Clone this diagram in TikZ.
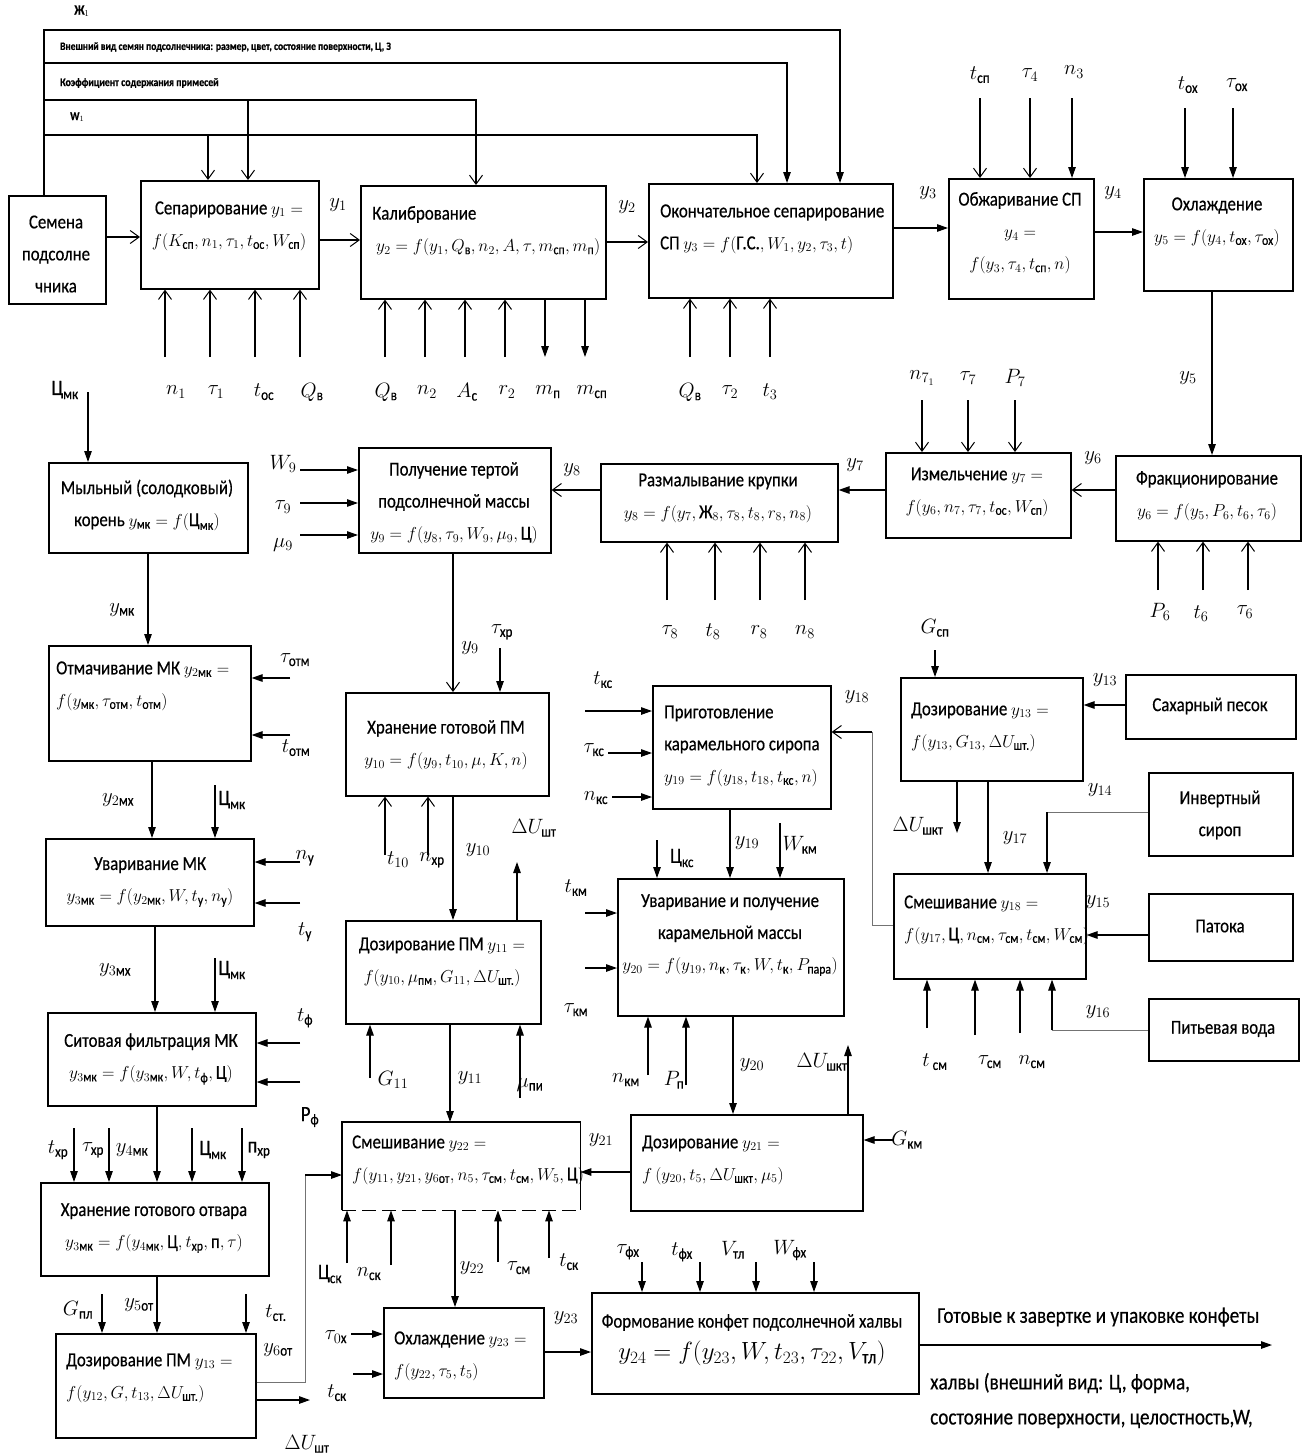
\documentclass[tikz,border=0pt]{standalone}
\usepackage{amsmath}
\usepackage{fontspec}
\setmainfont{Carlito}[Scale=1.1, FakeStretch=0.85, FakeBold=0.5]
\usetikzlibrary{arrows.meta}

\newcommand\bxf{\fontsize{18}{32}\selectfont}
\newcommand\lbf{\fontsize{20}{24}\selectfont}
\newcommand\tnf{\fontsize{10.2}{11}\selectfont\bfseries}
\newcommand\fnf{\fontsize{20.5}{22}\selectfont}
\newcommand\tc[1]{\text{#1}}

% input / output arrows with a named free end
\newcommand\indn[5]{\coordinate (#2) at (#3,#4); \draw[#1] (#2) -- (#2 |- #5.north);}
\newcommand\inup[5]{\coordinate (#2) at (#3,#4); \draw[#1] (#2) -- (#2 |- #5.south);}
\newcommand\inrt[5]{\coordinate (#2) at (#3,#4); \draw[#1] (#2) -- (#2 -| #5.west);}
\newcommand\inlt[5]{\coordinate (#2) at (#3,#4); \draw[#1] (#2) -- (#2 -| #5.east);}
\newcommand\outdn[5]{\coordinate (#2) at (#3,#4); \draw[#1] (#2 |- #5.south) -- (#2);}
\newcommand\outup[5]{\coordinate (#2) at (#3,#4); \draw[#1] (#2 |- #5.north) -- (#2);}

\tikzset{
  blk/.style={draw, line width=1.6pt, anchor=north west, inner sep=0pt},
  tx/.style={font=\bxf, align=center, inner sep=0pt},
  txl/.style={font=\bxf, align=left, inner sep=0pt, anchor=west},
  lb/.style={font=\lbf, inner sep=0pt},
  wire/.style={line width=1.2pt},
  oa/.style={wire, -{Straight Barb[length=9pt,width=13pt,line width=1pt]}},
  fa/.style={wire, -{Triangle[length=11pt,width=7.5pt]}},
  gw/.style={line width=1pt, draw=black!55},
}

\begin{document}
\begin{tikzpicture}[x=1pt,y=-1pt]
\path[fill=white] (0,0) rectangle (1308,1456);
\useasboundingbox (0,0) rectangle (1308,1456);

% ---------- quality indicators along the top ----------
\node[font=\fontsize{13}{15}\selectfont\bfseries, inner sep=0pt] (zh) at (82,11) {Ж$_1$};
\node[font=\tnf, anchor=west, inner sep=0pt] (vv) at (60,47) {Внешний вид семян подсолнечника: размер, цвет, состояние поверхности, Ц, З};
\node[font=\fontsize{10.5}{12}\selectfont\bfseries, anchor=west, inner sep=0pt] (ks) at (60,83) {Коэффициент содержания примесей};
\node[font=\fontsize{11}{12}\selectfont\bfseries, anchor=west, inner sep=0pt] (w1) at (70,117) {W$_1$};

% ---------- row 1 ----------
\node[blk,minimum width=97,minimum height=108] (sem) at (8,195) {};
\node[tx] (semt) at (56,254) {Семена\\подсолне\\чника};
\node[blk,minimum width=178,minimum height=108] (sep) at (140,180) {};
\node[tx] (sept) at (229,226) {Сепарирование $y_1 =$\\$f(K_{\tc{сп}}, n_1, \tau_1, t_{\tc{ос}}, W_{\tc{сп}})$};
\node[blk,minimum width=245,minimum height=113] (kal) at (360,185) {};
\node[txl] (kalt) at (372,231) {Калибрование\\\hspace{4pt}$y_2 = f(y_1, Q_{\tc{в}}, n_2, A, \tau, m_{\tc{сп}}, m_{\tc{п}})$};
\node[blk,minimum width=244,minimum height=114] (ok) at (648,183) {};
\node[txl] (okt) at (660,229) {Окончательное сепарирование\\СП $y_3 = f(\tc{Г.С.}, W_1, y_2, \tau_3, t)$};
\node[blk,minimum width=145,minimum height=120] (obj) at (948,178) {};
\node[tx] (objt) at (1020,233) {Обжаривание СП\\$y_4 =$\\$f(y_3, \tau_4, t_{\tc{сп}}, n)$};
\node[blk,minimum width=149,minimum height=112] (ohl) at (1143,178) {};
\node[tx] (ohlt) at (1217,222) {Охлаждение\\$y_5 = f(y_4, t_{\tc{ох}}, \tau_{\tc{ох}})$};

% feed lines from the top
\draw[fa] (sem.north -| 44,0) -- (44,30) -- (840,30) -- (840,0 |- ok.north);
\draw[fa] (44,63) -- (787,63) -- (787,0 |- ok.north);
\draw[oa] (44,100) -- (476,100) -- (476,0 |- kal.north);
\draw[oa] (248,100) -- (248,0 |- sep.north);
\draw[oa] (44,135) -- (757,135) -- (757,0 |- ok.north);
\draw[oa] (208,135) -- (208,0 |- sep.north);

\node[lb] (ly1) at (338,205) {$y_1$};
\node[lb] (ly2) at (627,207) {$y_2$};
\node[lb] (ly3) at (928,193) {$y_3$};
\node[lb] (ly4) at (1113,193) {$y_4$};
\draw[oa] (sem.east |- 0,237) -- (sep.west |- 0,237);
\draw[oa] (sep.east |- 0,240) -- (kal.west |- 0,240);
\draw[oa] (kal.east |- 0,242) -- (ok.west |- 0,242);
\draw[fa] (ok.east |- 0,228) -- (obj.west |- 0,228);
\draw[fa] (obj.east |- 0,232) -- (ohl.west |- 0,232);

\node[lb] (ltsp) at (980,75) {$t_{\tc{сп}}$}; \indn{oa}{atsp}{980}{98}{obj}
\node[lb] (lt4) at (1030,75) {$\tau_4$}; \indn{oa}{at4}{1030}{98}{obj}
\node[lb] (ln3) at (1074,72) {$n_3$}; \indn{fa}{an3}{1072}{98}{obj}
\node[lb] (ltox) at (1188,85) {$t_{\tc{ох}}$}; \indn{fa}{atox}{1185}{108}{ohl}
\node[lb] (ltaox) at (1237,85) {$\tau_{\tc{ох}}$}; \indn{fa}{ataox}{1233}{108}{ohl}

% inputs under row 1
\inup{oa}{an1}{165}{357}{sep} \node[lb] (ln1) at (176,392) {$n_1$};
\inup{oa}{at1}{210}{357}{sep} \node[lb] (lt1) at (216,392) {$\tau_1$};
\inup{oa}{atos}{255}{357}{sep} \node[lb] (ltos) at (264,392) {$t_{\tc{ос}}$};
\inup{oa}{aqv}{300}{357}{sep} \node[lb] (lqv) at (312,392) {$Q_{\tc{в}}$};
\inup{oa}{aqv2}{385}{357}{kal} \node[lb] (lqv2) at (386,392) {$Q_{\tc{в}}$};
\inup{oa}{an2}{425}{357}{kal} \node[lb] (ln2) at (427,392) {$n_2$};
\inup{oa}{aac}{465}{357}{kal} \node[lb] (lac) at (467,392) {$A_{\tc{с}}$};
\inup{oa}{ar2}{505}{357}{kal} \node[lb] (lr2) at (507,392) {$r_2$};
\outdn{fa}{amp}{545}{357}{kal} \node[lb] (lmp) at (548,392) {$m_{\tc{п}}$};
\outdn{fa}{amsp}{585}{357}{kal} \node[lb] (lmsp) at (592,392) {$m_{\tc{сп}}$};
\inup{oa}{aqv3}{690}{357}{ok} \node[lb] (lqv3) at (690,392) {$Q_{\tc{в}}$};
\inup{oa}{at2}{730}{357}{ok} \node[lb] (lt2) at (730,392) {$\tau_2$};
\inup{oa}{at3}{770}{357}{ok} \node[lb] (lt3) at (770,392) {$t_3$};

% ---------- row 2 (right to left) ----------
\node[blk,minimum width=185,minimum height=85] (frak) at (1115,455) {};
\node[tx] (frakt) at (1207,496) {Фракционирование\\$y_6 = f(y_5, P_6, t_6, \tau_6)$};
\node[blk,minimum width=185,minimum height=85] (izm) at (885,452) {};
\node[tx] (izmt) at (977,492) {Измельчение $y_7 =$\\$f(y_6, n_7, \tau_7, t_{\tc{ос}}, W_{\tc{сп}})$};
\node[blk,minimum width=237,minimum height=78] (raz) at (600,463) {};
\node[tx] (razt) at (718,498) {Размалывание крупки\\$y_8 = f(y_7, \tc{Ж}_8, \tau_8, t_8, r_8, n_8)$};
\node[blk,minimum width=192,minimum height=105] (pol) at (358,447) {};
\node[tx] (polt) at (454,503) {Получение тертой\\подсолнечной массы\\$y_9 = f(y_8, \tau_9, W_9, \mu_9, \tc{Ц})$};

\node[lb] (ly5) at (1188,378) {$y_5$};
\draw[fa] (1212,0 |- ohl.south) -- (1212,0 |- frak.north);
\node[lb] (ln7) at (922,378) {$n_{7_1}$}; \indn{oa}{an7}{922}{400}{izm}
\node[lb] (lt7) at (968,378) {$\tau_7$}; \indn{oa}{at7}{968}{400}{izm}
\node[lb] (lp7) at (1015,378) {$P_7$}; \indn{oa}{ap7}{1015}{400}{izm}

\node[lb] (ly6) at (1093,458) {$y_6$};
\node[lb] (ly7) at (855,465) {$y_7$};
\node[lb] (ly8) at (572,470) {$y_8$};
\draw[oa] (frak.west |- 0,490) -- (izm.east |- 0,490);
\draw[fa] (izm.west |- 0,490) -- (raz.east |- 0,490);
\draw[oa] (raz.west |- 0,490) -- (pol.east |- 0,490);

\inup{oa}{at8}{667}{600}{raz} \node[lb] (lt8) at (670,632) {$\tau_8$};
\inup{oa}{att8}{715}{600}{raz} \node[lb] (ltt8) at (713,632) {$t_8$};
\inup{oa}{ar8}{760}{600}{raz} \node[lb] (lr8) at (759,632) {$r_8$};
\inup{oa}{an8}{805}{600}{raz} \node[lb] (ln8) at (805,632) {$n_8$};
\inup{oa}{ap6}{1158}{590}{frak} \node[lb] (lp6) at (1160,612) {$P_6$};
\inup{oa}{at6}{1203}{590}{frak} \node[lb] (lt6) at (1201,614) {$t_6$};
\inup{oa}{ata6}{1248}{590}{frak} \node[lb] (lta6) at (1245,612) {$\tau_6$};

\node[lb] (lw9) at (283,464) {$W_9$}; \inrt{fa}{aw9}{300}{470}{pol}
\node[lb] (lta9) at (283,507) {$\tau_9$}; \inrt{fa}{ata9}{300}{503}{pol}
\node[lb] (lmu9) at (283,545) {$\mu_9$}; \inrt{fa}{amu9}{300}{535}{pol}

% ---------- left column: liquorice root decoction ----------
\node[blk,minimum width=199,minimum height=90] (mk) at (48,462) {};
\node[tx] (mkt) at (147,505) {Мыльный (солодковый)\\корень $y_{\tc{мк}} = f(\tc{Ц}_{\tc{мк}})$};
\node[lb] (lcmk) at (65,390) {$\tc{Ц}_{\tc{мк}}$}; \indn{fa}{acmk}{88}{392}{mk}
\node[blk,minimum width=202,minimum height=115] (otm) at (48,645) {};
\node[lb] (lymk) at (122,610) {$y_{\tc{мк}}$};
\draw[fa] (148,0 |- mk.south) -- (148,0 |- otm.north);
\node[txl] (otmt) at (56,686) {Отмачивание МК $y_{2\tc{мк}} =$\\$f(y_{\tc{мк}}, \tau_{\tc{отм}}, t_{\tc{отм}})$};
\node[lb] (ltotm) at (295,660) {$\tau_{\tc{отм}}$}; \inlt{fa}{atotm}{290}{678}{otm}
\node[lb] (lttotm) at (296,748) {$t_{\tc{отм}}$}; \inlt{fa}{attotm}{290}{735}{otm}

\node[blk,minimum width=208,minimum height=87] (uv) at (45,838) {};
\node[lb] (ly2mk) at (118,800) {$y_{2\tc{мх}}$};
\draw[fa] (152,0 |- otm.south) -- (152,0 |- uv.north);
\node[lb] (lcmk2) at (232,800) {$\tc{Ц}_{\tc{мк}}$}; \indn{fa}{acmk2}{215}{785}{uv}
\node[tx] (uvt) at (150,882) {Уваривание МК\\$y_{3\tc{мк}} = f(y_{2\tc{мк}}, W, t_{\tc{у}}, n_{\tc{у}})$};
\node[lb] (lny) at (305,858) {$n_{\tc{у}}$}; \inlt{fa}{any}{300}{862}{uv}
\node[lb] (lty) at (305,932) {$t_{\tc{у}}$}; \inlt{fa}{aty}{300}{903}{uv}

\node[blk,minimum width=208,minimum height=93] (sit) at (47,1012) {};
\node[lb] (ly3mk) at (115,970) {$y_{3\tc{мх}}$};
\draw[fa] (155,0 |- uv.south) -- (155,0 |- sit.north);
\node[lb] (lcmk3) at (232,970) {$\tc{Ц}_{\tc{мк}}$}; \indn{fa}{acmk3}{215}{958}{sit}
\node[tx] (sitt) at (151,1059) {Ситовая фильтрация МК\\$y_{3\tc{мк}} = f(y_{3\tc{мк}}, W, t_{\tc{ф}}, \tc{Ц})$};
\node[lb] (ltf) at (305,1018) {$t_{\tc{ф}}$}; \inlt{fa}{atf}{300}{1043}{sit}
\node[lb] (lpf) at (310,1117) {P$_{\tc{ф}}$}; \inlt{fa}{apf}{300}{1082}{sit}

\node[blk,minimum width=228,minimum height=93] (hr) at (40,1182) {};
\node[lb] (ltxr) at (58,1150) {$t_{\tc{хр}}$}; \indn{fa}{atxr}{74}{1128}{hr}
\node[lb] (ltaxr) at (93,1150) {$\tau_{\tc{хр}}$}; \indn{fa}{ataxr}{109}{1128}{hr}
\node[lb] (ly4mk) at (132,1150) {$y_{4\tc{мк}}$};
\draw[fa] (157,0 |- sit.south) -- (157,0 |- hr.north);
\node[lb] (lcmk4) at (213,1150) {$\tc{Ц}_{\tc{мк}}$}; \indn{fa}{acmk4}{192}{1128}{hr}
\node[lb] (lnxr) at (259,1150) {п$_{\tc{хр}}$}; \indn{fa}{anxr}{242}{1128}{hr}
\node[tx] (hrt) at (154,1228) {Хранение готового отвара\\$y_{3\tc{мк}} = f(y_{4\tc{мк}}, \tc{Ц}, t_{\tc{хр}}, \tc{п}, \tau)$};

\node[blk,minimum width=200,minimum height=104] (dpm) at (55,1333) {};
\node[lb] (lgpl) at (78,1310) {$G_{\tc{пл}}$}; \indn{fa}{agpl}{102}{1294}{dpm}
\node[lb] (ly5o) at (139,1305) {$y_{5\tc{от}}$};
\draw[fa] (157,0 |- hr.south) -- (157,0 |- dpm.north);
\node[lb] (ltst) at (276,1313) {$t_{\tc{ст.}}$}; \indn{fa}{atst}{246}{1294}{dpm}
\node[lb] (ly6o) at (278,1350) {$y_{6\tc{от}}$};
\node[txl] (dpmt) at (66,1378) {Дозирование ПМ $y_{13} =$\\$f(y_{12}, G, t_{13}, \Delta U_{\tc{шт.}})$};

% ---------- middle column ----------
\node[blk,minimum width=203,minimum height=103] (hpm) at (345,692) {};
\node[lb] (ly9) at (470,648) {$y_9$};
\draw[oa] (453,0 |- pol.south) -- (453,0 |- hpm.north);
\node[lb] (ltaxr2) at (502,632) {$\tau_{\tc{хр}}$}; \indn{fa}{ataxr2}{500}{648}{hpm}
\node[tx] (hpmt) at (446,745) {Хранение готовой ПМ\\$y_{10} = f(y_9, t_{10}, \mu, K, n)$};
\inup{oa}{at10}{385}{855}{hpm} \node[lb] (lt10) at (398,860) {$t_{10}$};
\inup{oa}{anxr2}{428}{855}{hpm} \node[lb] (lnxr2) at (432,860) {$n_{\tc{хр}}$};

\node[blk,minimum width=195,minimum height=103] (d11) at (345,920) {};
\node[lb] (ly10) at (478,850) {$y_{10}$};
\draw[fa] (453,0 |- hpm.south) -- (453,0 |- d11.north);
\node[lb] (ldu11) at (534,828) {$\Delta U_{\tc{шт}}$}; \outup{fa}{adu11}{517}{862}{d11}
\node[tx] (d11t) at (442,962) {Дозирование ПМ $y_{11} =$\\$f(y_{10}, \mu_{\tc{пм}}, G_{11}, \Delta U_{\tc{шт.}})$};
\inup{fa}{ag11}{370}{1078}{d11} \node[lb] (lg11) at (393,1080) {$G_{11}$};
\inup{fa}{amupi}{520}{1098}{d11} \node[lb] (lmupi) at (530,1085) {$\mu_{\tc{пи}}$};

\node[minimum width=238,minimum height=88,anchor=north west,inner sep=0pt] (smk) at (342,1122) {};
\draw[line width=1.6pt] (smk.south west) -- (smk.north west) -- (smk.north east) -- (smk.south east);
\draw[line width=1.6pt, dash pattern=on 14pt off 6pt] (smk.south west) -- (smk.south east);
\node[lb] (ly11) at (470,1078) {$y_{11}$};
\draw[fa] (450,0 |- d11.south) -- (450,0 |- smk.north);
\node[txl] (smkt) at (352,1160) {Смешивание $y_{22} =$\\$f(y_{11}, y_{21}, y_{6\tc{от}}, n_5, \tau_{\tc{см}}, t_{\tc{см}}, W_5, \tc{Ц})$};
\inup{fa}{acsk}{347}{1263}{smk} \node[lb] (lcsk) at (330,1274) {$\tc{Ц}_{\tc{ск}}$};
\inup{fa}{ansk}{391}{1265}{smk} \node[lb] (lnsk) at (369,1274) {$n_{\tc{ск}}$};
\inup{fa}{atasm}{498}{1262}{smk} \node[lb] (ltasm) at (519,1268) {$\tau_{\tc{см}}$};
\inup{fa}{atsk}{549}{1258}{smk} \node[lb] (ltsk) at (569,1262) {$t_{\tc{ск}}$};

% feed from the portioning box into the mixer
\draw[gw] (dpm.east |- 0,1382) -- (305,1382) -- (305,1175);
\draw[fa] (305,1175) -- (smk.west |- 0,1175);
\coordinate (adus) at (310,1400);
\draw[fa] (dpm.east |- adus) -- (adus);
\node[lb] (ldus) at (307,1444) {$\Delta U_{\tc{шт}}$};

\node[blk,minimum width=160,minimum height=90] (och) at (383,1307) {};
\node[lb] (ly22) at (472,1268) {$y_{22}$};
\draw[fa] (455,0 |- smk.south) -- (455,0 |- och.north);
\node[txl] (ocht) at (394,1356) {Охлаждение $y_{23} =$\\$f(y_{22}, \tau_5, t_5)$};
\node[lb] (ltao) at (336,1337) {$\tau_{0\tc{х}}$}; \inrt{fa}{atao}{351}{1334}{och}
\node[lb] (ltsk2) at (337,1393) {$t_{\tc{ск}}$}; \inrt{fa}{atsk2}{353}{1374}{och}

\node[blk,minimum width=327,minimum height=101] (form) at (591,1292) {};
\node[lb] (ly23) at (566,1318) {$y_{23}$};
\draw[fa] (och.east |- 0,1352) -- (form.west |- 0,1352);
\node[tx] (formt) at (752,1340) {Формование конфет подсолнечной халвы\\{\fontsize{25}{32}\selectfont $y_{24} = f(y_{23}, W, t_{23}, \tau_{22}, V_{\tc{тл}})$}};
\node[lb] (ltafx) at (628,1252) {$\tau_{\tc{фх}}$}; \indn{fa}{atafx}{642}{1262}{form}
\node[lb] (ltfx) at (682,1252) {$t_{\tc{фх}}$}; \indn{fa}{atfx}{700}{1262}{form}
\node[lb] (lvtl) at (733,1250) {$V_{\tc{тл}}$}; \indn{fa}{avtl}{756}{1262}{form}
\node[lb] (lwfx) at (790,1250) {$W_{\tc{фх}}$}; \indn{fa}{awfx}{814}{1262}{form}
\coordinate (fout) at (1272,1345);
\draw[fa] (form.east |- fout) -- (fout);
\node[font=\fnf, anchor=west, inner sep=0pt] (fin1) at (937,1317) {Готовые к завертке и упаковке конфеты};
\node[font=\fnf, anchor=west, inner sep=0pt] (fin2) at (930,1383) {халвы (внешний вид: Ц, форма,};
\node[font=\fnf, anchor=west, inner sep=0pt] (fin3) at (930,1419) {состояние поверхности, целостность,W,};

% ---------- sugar syrup branch ----------
\node[blk,minimum width=182,minimum height=103] (d13) at (900,677) {};
\node[lb] (lgsp) at (935,628) {$G_{\tc{сп}}$}; \indn{fa}{agsp}{935}{650}{d13}
\node[txl] (d13t) at (911,727) {Дозирование $y_{13} =$\\$f(y_{13}, G_{13}, \Delta U_{\tc{шт.}})$};
\node[blk,minimum width=170,minimum height=64] (sah) at (1125,674) {};
\node[tx] (saht) at (1210,706) {Сахарный песок};
\node[lb] (ly13) at (1105,680) {$y_{13}$};
\draw[fa] (sah.west |- 0,705) -- (d13.east |- 0,705);
\node[lb] (ldush) at (918,826) {$\Delta U_{\tc{шкт}}$}; \outdn{fa}{adush}{957}{833}{d13}

\node[blk,minimum width=192,minimum height=105] (sm18) at (893,873) {};
\node[lb] (ly17) at (1015,838) {$y_{17}$};
\draw[fa] (988,0 |- d13.south) -- (988,0 |- sm18.north);
\node[txl] (sm18t) at (904,920) {Смешивание $y_{18} =$\\$f(y_{17}, \tc{Ц}, n_{\tc{см}}, \tau_{\tc{см}}, t_{\tc{см}}, W_{\tc{см}})$};

\node[blk,minimum width=144,minimum height=83] (inv) at (1148,772) {};
\node[tx] (invt) at (1220,815) {Инвертный\\сироп};
\node[lb] (ly14) at (1100,790) {$y_{14}$};
\draw[gw] (inv.west |- 0,812) -- (1047,812);
\draw[fa] (1047,812) -- (1047,0 |- sm18.north);

\node[blk,minimum width=144,minimum height=67] (pat) at (1148,893) {};
\node[tx] (patt) at (1220,926) {Патока};
\node[lb] (ly15) at (1098,902) {$y_{15}$};
\draw[fa] (pat.west |- 0,935) -- (sm18.east |- 0,935);
\node[blk,minimum width=150,minimum height=62] (pit) at (1148,998) {};
\node[tx] (pitt) at (1223,1029) {Питьевая вода};
\node[lb] (ly16) at (1098,1012) {$y_{16}$};
\draw[gw] (pit.west |- 0,1030) -- (1052,1030);
\draw[fa] (1052,1030) -- (1052,0 |- sm18.south);
\inup{fa}{atsm}{927}{1028}{sm18} \node[lb] (ltsm) at (935,1062) {$t_{\tc{ см}}$};
\inup{fa}{atasm2}{975}{1035}{sm18} \node[lb] (ltasm2) at (990,1062) {$\tau_{\tc{см}}$};
\inup{fa}{ansm}{1020}{1033}{sm18} \node[lb] (lnsm) at (1032,1062) {$n_{\tc{см}}$};

% ---------- caramel branch ----------
\node[blk,minimum width=178,minimum height=123] (prig) at (652,685) {};
\node[txl] (prigt) at (664,746) {Приготовление\\карамельного сиропа\\$y_{19} = f(y_{18}, t_{18}, t_{\tc{кс}}, n)$};
\node[lb] (ltks) at (603,680) {$t_{\tc{кс}}$}; \inrt{fa}{atks}{585}{711}{prig}
\node[lb] (ltaks) at (594,750) {$\tau_{\tc{кс}}$}; \inrt{fa}{ataks}{608}{753}{prig}
\node[lb] (lnks) at (596,798) {$n_{\tc{кс}}$}; \inrt{fa}{anks}{612}{797}{prig}
\node[lb] (ly18) at (857,697) {$y_{18}$};
\draw[gw] (sm18.west |- 0,925) -- (872,925) -- (872,732);
\draw[oa] (872,732) -- (prig.east |- 0,732);

\node[blk,minimum width=226,minimum height=137] (uvk) at (617,878) {};
\node[lb] (lcks) at (682,858) {$\tc{Ц}_{\tc{кс}}$}; \indn{fa}{acks}{657}{840}{uvk}
\node[lb] (ly19) at (747,843) {$y_{19}$};
\draw[fa] (730,0 |- prig.south) -- (730,0 |- uvk.north);
\node[lb] (lwkm) at (800,845) {$W_{\tc{км}}$}; \indn{fa}{awkm}{780}{823}{uvk}
\node[tx] (uvkt) at (730,935) {Уваривание и получение\\карамельной массы\\$y_{20} = f(y_{19}, n_{\tc{к}}, \tau_{\tc{к}}, W, t_{\tc{к}}, P_{\tc{пара}})$};
\node[lb] (ltkm) at (576,888) {$t_{\tc{км}}$}; \inrt{fa}{atkm}{585}{913}{uvk}
\node[lb] (ltakm) at (576,1010) {$\tau_{\tc{км}}$}; \inrt{fa}{atakm}{585}{968}{uvk}
\inup{fa}{ankm}{648}{1075}{uvk} \node[lb] (lnkm) at (626,1080) {$n_{\tc{км}}$};
\inup{fa}{app}{686}{1085}{uvk} \node[lb] (lpp) at (674,1080) {$P_{\tc{п}}$};

\node[blk,minimum width=232,minimum height=96] (d21) at (630,1114) {};
\node[lb] (ly20) at (752,1065) {$y_{20}$};
\draw[fa] (733,0 |- uvk.south) -- (733,0 |- d21.north);
\node[lb] (ldukt) at (822,1062) {$\Delta U_{\tc{шкт}}$}; \outup{fa}{adukt}{848}{1045}{d21}
\node[txl] (d21t) at (642,1160) {Дозирование $y_{21} =$\\$f\,(y_{20}, t_5, \Delta U_{\tc{шкт}}, \mu_5)$};
\node[lb] (lgkm) at (907,1140) {$G_{\tc{км}}$}; \inlt{fa}{agkm}{893}{1140}{d21}
\node[lb] (ly21) at (601,1140) {$y_{21}$};
\draw[fa] (d21.west |- 0,1172) -- (smk.east |- 0,1172);
\end{tikzpicture}
\end{document}
